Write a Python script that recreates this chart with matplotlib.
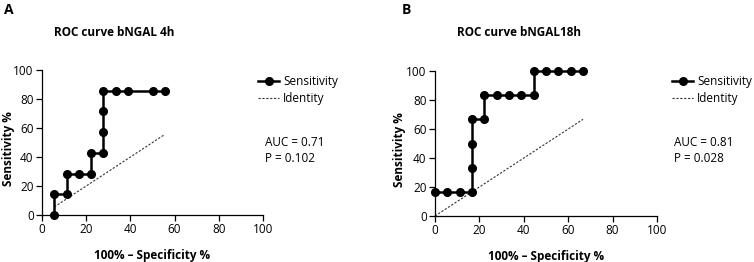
import matplotlib
matplotlib.use("Agg")
import matplotlib.pyplot as plt
from matplotlib.lines import Line2D

plt.rcParams['font.family'] = ['Open Sans', 'DejaVu Sans']

# Panel A data (bNGAL 4h)
a_x = [5.56, 5.56, 11.11, 11.11, 16.67, 22.22, 22.22, 27.78, 27.78, 27.78, 27.78, 33.33, 38.89, 50.0, 55.56]
a_y = [0.0, 14.29, 14.29, 28.57, 28.57, 28.57, 42.86, 42.86, 57.14, 71.43, 85.71, 85.71, 85.71, 85.71, 85.71]
a_id = [5.56, 55.56]
# Panel B data (bNGAL 18h)
b_x = [0.0, 5.56, 11.11, 16.67, 16.67, 16.67, 16.67, 22.22, 22.22, 27.78, 33.33, 38.89, 44.44, 44.44, 50.0, 55.56, 61.11, 66.67]
b_y = [16.67, 16.67, 16.67, 16.67, 33.33, 50.0, 66.67, 66.67, 83.33, 83.33, 83.33, 83.33, 83.33, 100.0, 100.0, 100.0, 100.0, 100.0]
b_id = [0.0, 66.67]

titles = ["ROC curve bNGAL 4h", "ROC curve bNGAL18h"]
letters = ["A", "B"]
stats = [["AUC = 0.71", "P = 0.102"], ["AUC = 0.81", "P = 0.028"]]
ticks = [0, 20, 40, 60, 80, 100]

fig = plt.figure(figsize=(7.54, 2.62), dpi=100)
W, H = 754, 262

def fx(px):
    return px / W

def fy(py):
    return 1 - py / H

panels = [
    dict(x=a_x, y=a_y, idl=a_id, left=42, right=263, top=70, bottom=215,
         title_x=114, letter_x=4, leg_x=258, stat_x=265, ylab_x=9),
    dict(x=b_x, y=b_y, idl=b_id, left=435, right=657, top=71, bottom=216,
         title_x=519, letter_x=402, leg_x=672, stat_x=674, ylab_x=400),
]

for i, p in enumerate(panels):
    wpx = p['right'] - p['left']
    hpx = p['bottom'] - p['top']
    ax = fig.add_axes([fx(p['left']), fy(p['bottom']), wpx / W, hpx / H])
    ax.plot(p['idl'], p['idl'], linestyle=(0, (2, 1.5)), color='#333333', lw=0.8,
            clip_on=False, zorder=2)
    ax.plot(p['x'], p['y'], '-o', color='black', lw=1.8, ms=5.5, clip_on=False, zorder=3)
    ax.set_xlim(0, 100)
    ax.set_ylim(0, 100)
    ax.set_xticks(ticks)
    ax.set_yticks(ticks)
    for s in ['top', 'right']:
        ax.spines[s].set_visible(False)
    for s in ['left', 'bottom']:
        ax.spines[s].set_linewidth(0.9)
    ax.tick_params(direction='out', length=4, width=0.9, labelsize=8.5, pad=2)
    ax.set_xlabel("100% – Specificity %", fontsize=8.5, fontweight='bold', labelpad=9)
    ax.set_ylabel("Sensitivity %", fontsize=8.5, fontweight='bold')
    ax.yaxis.label.set_va('center')
    ax.yaxis.set_label_coords((p['ylab_x'] - p['left']) / wpx, 0.46)

    fig.text(fx(p['title_x']), fy(33), titles[i], fontsize=8.5, fontweight='bold',
             ha='center', va='center')
    fig.text(fx(p['letter_x']), fy(10), letters[i], fontsize=10, fontweight='bold',
             ha='left', va='center')

    # legend
    lx = p['leg_x']
    fig.add_artist(Line2D([fx(lx), fx(lx + 21)], [fy(81), fy(81)], color='black', lw=1.8,
                          transform=fig.transFigure))
    fig.add_artist(Line2D([fx(lx + 10.5)], [fy(81)], marker='o', color='black', ms=5.5,
                          transform=fig.transFigure))
    fig.add_artist(Line2D([fx(lx), fx(lx + 21)], [fy(98), fy(98)], color='#333333', lw=0.8,
                          linestyle=(0, (2, 1.5)), transform=fig.transFigure))
    fig.text(fx(lx + 25), fy(81), "Sensitivity", fontsize=8.5, ha='left', va='center')
    fig.text(fx(lx + 25), fy(98), "Identity", fontsize=8.5, ha='left', va='center')

    fig.text(fx(p['stat_x']), fy(143), stats[i][0], fontsize=8.5, ha='left', va='center')
    fig.text(fx(p['stat_x']), fy(158), stats[i][1], fontsize=8.5, ha='left', va='center')

fig.savefig("out.png", dpi=100)
